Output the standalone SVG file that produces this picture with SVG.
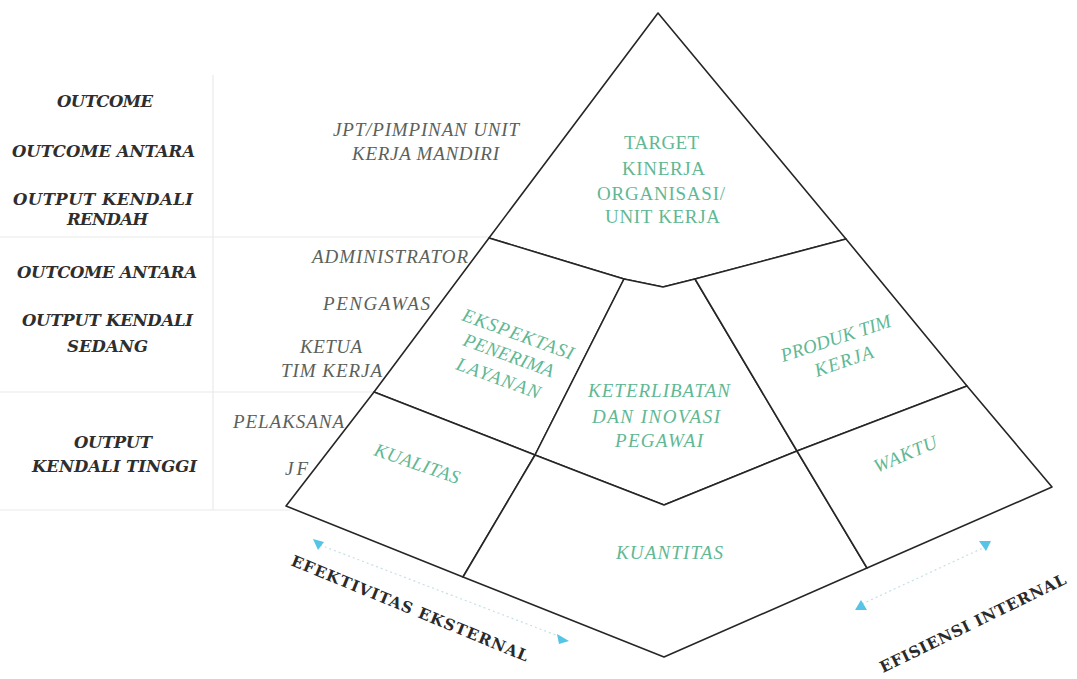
<svg xmlns="http://www.w3.org/2000/svg" width="1077" height="679" viewBox="0 0 1077 679">
<style>
.bg{fill:#ffffff}
.faint{stroke:#e6ece6;stroke-width:1.2;fill:none}
.reg{fill:#ffffff;stroke:#262626;stroke-width:1.6;stroke-linejoin:round}
.lvl{font-family:"DejaVu Serif","Liberation Serif",serif;font-weight:bold;font-style:italic;font-size:16.5px;fill:#2e2e2e}
.role{font-family:"Liberation Serif",serif;font-style:italic;font-size:19px;fill:#5a615a}
.up{font-family:"Liberation Serif",serif;font-size:19px;fill:#5fb894}
.it{font-family:"Liberation Serif",serif;font-style:italic;font-size:19px;fill:#5fb894}
.axis{font-family:"DejaVu Serif","Liberation Serif",serif;font-weight:bold;font-size:15.5px;fill:#2a2a2a}
.dot{stroke:#c4dfe6;stroke-width:1.2;stroke-dasharray:2 3;fill:none}
.head{fill:#55c4e6}
</style>
<rect class="bg" x="0" y="0" width="1077" height="679"/>
<g id="column-lines">
<line class="faint" x1="213" y1="75" x2="213" y2="510"/>
<line class="faint" x1="0" y1="237" x2="489" y2="237"/>
<line class="faint" x1="0" y1="392" x2="374" y2="392"/>
<line class="faint" x1="0" y1="510" x2="290" y2="510"/>
</g>
<g id="levels">
<text class="lvl" x="57" y="107" textLength="96">OUTCOME</text>
<text class="lvl" x="12" y="157" textLength="183">OUTCOME ANTARA</text>
<text class="lvl" x="13" y="205" textLength="180">OUTPUT KENDALI</text>
<text class="lvl" x="67" y="225" textLength="81">RENDAH</text>
<text class="lvl" x="17" y="278" textLength="180">OUTCOME ANTARA</text>
<text class="lvl" x="22" y="326" textLength="171">OUTPUT KENDALI</text>
<text class="lvl" x="67" y="352" textLength="81">SEDANG</text>
<text class="lvl" x="74" y="448" textLength="78">OUTPUT</text>
<text class="lvl" x="32" y="472" textLength="165">KENDALI TINGGI</text>
</g>
<g id="roles">
<text class="role" x="333" y="136" textLength="186">JPT/PIMPINAN UNIT</text>
<text class="role" x="352" y="160" textLength="147">KERJA MANDIRI</text>
<text class="role" x="312" y="263" textLength="156">ADMINISTRATOR</text>
<text class="role" x="323" y="310" textLength="107">PENGAWAS</text>
<text class="role" x="300" y="353" textLength="62">KETUA</text>
<text class="role" x="281" y="377" textLength="101">TIM KERJA</text>
<text class="role" x="233" y="428" textLength="111">PELAKSANA</text>
<text class="role" x="285" y="475" textLength="23">JF</text>
</g>
<g id="target">
<polygon class="reg" points="658,13 846,239 695,279 663,287 624,279 489,238"/>
<text class="up" x="624" y="149" textLength="75">TARGET</text>
<text class="up" x="622" y="175" textLength="83">KINERJA</text>
<text class="up" x="597" y="200" textLength="128">ORGANISASI/</text>
<text class="up" x="605" y="223" textLength="115">UNIT KERJA</text>
</g>
<g id="ekspektasi">
<polygon class="reg" points="489,238 624,279 535,455 374,392"/>
<text class="it" transform="translate(461,320) rotate(20)" textLength="117">EKSPEKTASI</text>
<text class="it" transform="translate(462,345) rotate(20)" textLength="95">PENERIMA</text>
<text class="it" transform="translate(455,369) rotate(20)" textLength="88">LAYANAN</text>
</g>
<g id="keterlibatan">
<polygon class="reg" points="624,279 663,287 695,279 797,451 664,505 535,455"/>
<text class="it" x="588" y="397" textLength="142">KETERLIBATAN</text>
<text class="it" x="592" y="423" textLength="128">DAN INOVASI</text>
<text class="it" x="615" y="447" textLength="88">PEGAWAI</text>
</g>
<g id="produk">
<polygon class="reg" points="695,279 846,239 967,386 797,451"/>
<text class="it" transform="translate(783,362) rotate(-18)" textLength="115">PRODUK TIM</text>
<text class="it" transform="translate(817,377) rotate(-19)" textLength="61">KERJA</text>
</g>
<g id="kualitas">
<polygon class="reg" points="374,392 535,455 463,577 286,506"/>
<text class="it" transform="translate(373,455) rotate(19)" textLength="89">KUALITAS</text>
</g>
<g id="kuantitas">
<polygon class="reg" points="535,455 664,505 797,451 867,568 664,657 463,577"/>
<text class="it" x="616" y="559" textLength="107">KUANTITAS</text>
</g>
<g id="waktu">
<polygon class="reg" points="797,451 967,386 1052,487 867,568"/>
<text class="it" transform="translate(877,473) rotate(-23)" textLength="67">WAKTU</text>
</g>
<g id="connectors">
<line class="dot" x1="320" y1="545" x2="561" y2="637"/>
<polygon class="head" points="313,539 324,542 318,550"/>
<polygon class="head" points="569,641 557,634 559,644"/>
<line class="dot" x1="862" y1="604" x2="985" y2="547"/>
<polygon class="head" points="861,600 855,610 867,610"/>
<polygon class="head" points="979,541 991,541 986,551"/>
</g>
<g id="axis-labels">
<text class="axis" transform="translate(290,565) rotate(22.3)" textLength="255">EFEKTIVITAS EKSTERNAL</text>
<text class="axis" transform="translate(883,673) rotate(-26)" textLength="205">EFISIENSI INTERNAL</text>
</g>
</svg>
